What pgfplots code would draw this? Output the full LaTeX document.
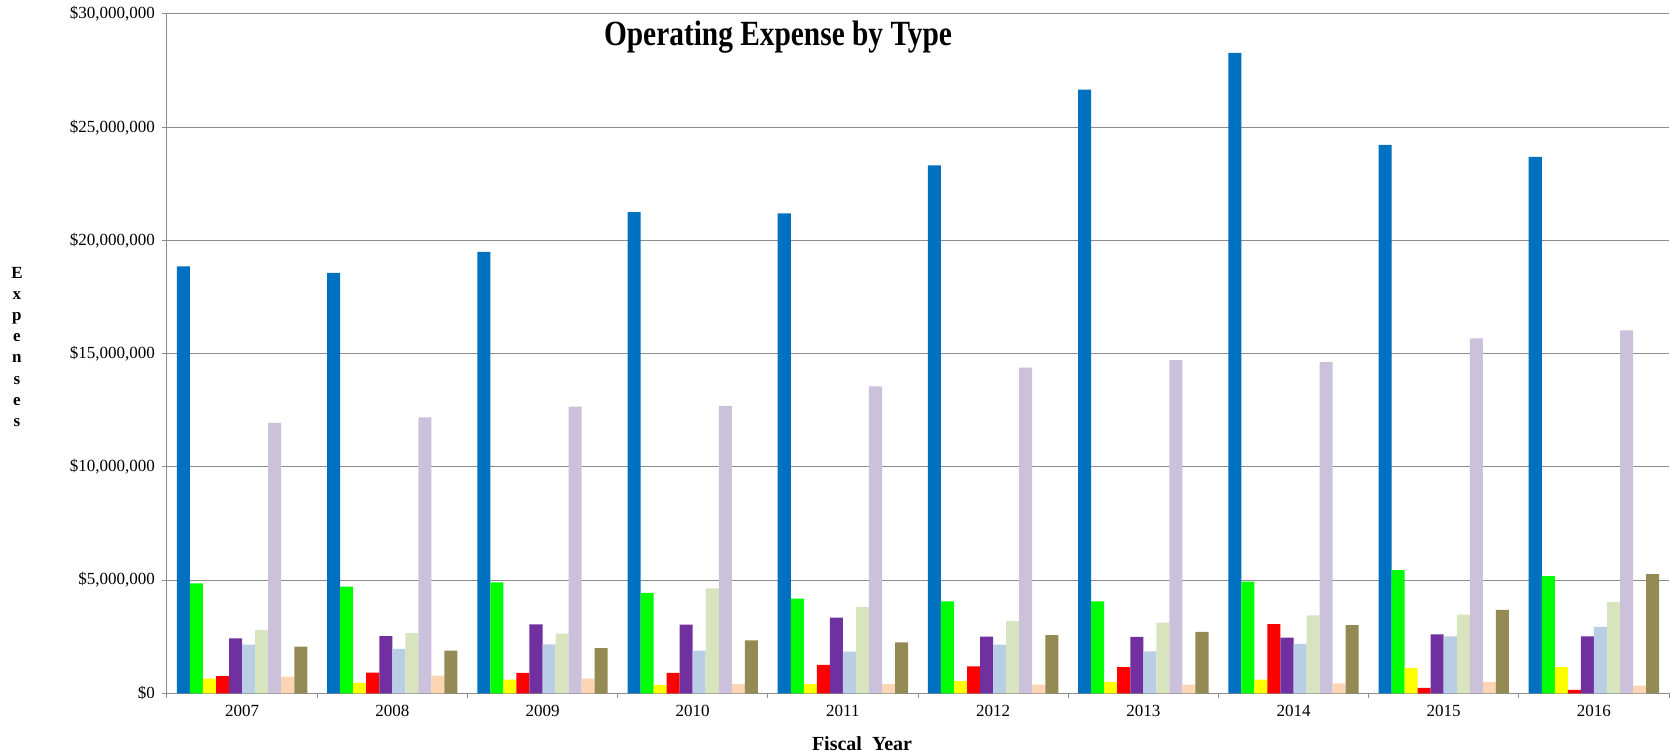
\documentclass[border=0pt]{standalone}
\usepackage{fontspec}
\setmainfont{Liberation Serif}
\usepackage{graphicx}
\usepackage{pgfplots}
\usepackage{pgfplotstable}
\pgfplotsset{compat=1.18}
\definecolor{c1}{HTML}{0070C0}
\definecolor{c2}{HTML}{00FF00}
\definecolor{c3}{HTML}{FFFF00}
\definecolor{c4}{HTML}{FF0000}
\definecolor{c5}{HTML}{7030A0}
\definecolor{c6}{HTML}{B9CDE5}
\definecolor{c7}{HTML}{D7E4BD}
\definecolor{c8}{HTML}{CCC1DA}
\definecolor{c9}{HTML}{FCD5B5}
\definecolor{c10}{HTML}{948A54}
\definecolor{gridgray}{HTML}{8C8C8C}
% values in millions of dollars
\pgfplotstableread{
x  a     b    c    d    e    f    g    h     i    j
0  18.85 4.85 0.65 0.76 2.43 2.15 2.79 11.94 0.74 2.06
1  18.57 4.71 0.46 0.91 2.53 1.96 2.66 12.19 0.78 1.88
2  19.50 4.90 0.60 0.90 3.04 2.16 2.63 12.66 0.65 2.00
3  21.25 4.43 0.37 0.90 3.03 1.88 4.63 12.69 0.41 2.34
4  21.19 4.18 0.41 1.25 3.34 1.84 3.81 13.56 0.41 2.25
5  23.31 4.06 0.54 1.19 2.50 2.15 3.19 14.38 0.38 2.57
6  26.66 4.06 0.50 1.16 2.49 1.85 3.12 14.71 0.38 2.71
7  28.28 4.93 0.60 3.06 2.46 2.18 3.44 14.63 0.44 3.01
8  24.22 5.44 1.12 0.24 2.60 2.51 3.47 15.68 0.50 3.68
9  23.69 5.18 1.16 0.15 2.51 2.93 4.03 16.03 0.34 5.26
}\data
\begin{document}
\begin{tikzpicture}
\useasboundingbox (-83.5pt,-30.85pt) rectangle (751.5pt,346.65pt);
\begin{axis}[
  scale only axis, width=751pt, height=339.65pt,
  xmin=-0.5, xmax=9.5, ymin=0, ymax=30,
  axis x line*=bottom, axis y line*=left,
  axis line style={draw=gridgray, line width=0.5pt, -},
  tick align=outside, major tick length=2.5pt,
  tick style={draw=gridgray, line width=0.5pt},
  ytick={0,5,10,15,20,25,30},
  yticklabels={\$0,{\$5,000,000},{\$10,000,000},{\$15,000,000},{\$20,000,000},{\$25,000,000},{\$30,000,000}},
  ymajorgrids, grid style={draw=gridgray, line width=0.5pt},
  xtick={-0.5,0.5,1.5,2.5,3.5,4.5,5.5,6.5,7.5,8.5,9.5},
  x tick label as interval,
  xticklabels={2007,2008,2009,2010,2011,2012,2013,2014,2015,2016},
  tick label style={font=\fontsize{8.5}{10}\selectfont},
  xlabel={Fiscal\ \ Year},
  xlabel style={font=\bfseries\fontsize{10}{12}\selectfont, at={(axis description cs:0.4627,-0.0835)}, anchor=base},
  ylabel={E\\x\\p\\e\\n\\s\\e\\s},
  ylabel style={rotate=-90, align=center, font=\bfseries\fontsize{8.5}{10.6}\selectfont, at={(axis description cs:-0.0999,0.51)}, anchor=center},
  clip=false,
]
\addplot[ybar, bar width=0.0868, bar shift=-0.3906, fill=c1, draw=none] table[x=x,y=a]{\data};
\addplot[ybar, bar width=0.0868, bar shift=-0.3038, fill=c2, draw=none] table[x=x,y=b]{\data};
\addplot[ybar, bar width=0.0868, bar shift=-0.2170, fill=c3, draw=none] table[x=x,y=c]{\data};
\addplot[ybar, bar width=0.0868, bar shift=-0.1302, fill=c4, draw=none] table[x=x,y=d]{\data};
\addplot[ybar, bar width=0.0868, bar shift=-0.0434, fill=c5, draw=none] table[x=x,y=e]{\data};
\addplot[ybar, bar width=0.0868, bar shift=0.0434, fill=c6, draw=none] table[x=x,y=f]{\data};
\addplot[ybar, bar width=0.0868, bar shift=0.1302, fill=c7, draw=none] table[x=x,y=g]{\data};
\addplot[ybar, bar width=0.0868, bar shift=0.2170, fill=c8, draw=none] table[x=x,y=h]{\data};
\addplot[ybar, bar width=0.0868, bar shift=0.3038, fill=c9, draw=none] table[x=x,y=i]{\data};
\addplot[ybar, bar width=0.0868, bar shift=0.3906, fill=c10, draw=none] table[x=x,y=j]{\data};
\node[anchor=base, inner sep=0pt, font=\bfseries\fontsize{17.7}{20}\selectfont] at (axis description cs:0.4068,0.9541) {\scalebox{0.83}[1]{Operating Expense by Type}};
\end{axis}
\end{tikzpicture}
\end{document}
